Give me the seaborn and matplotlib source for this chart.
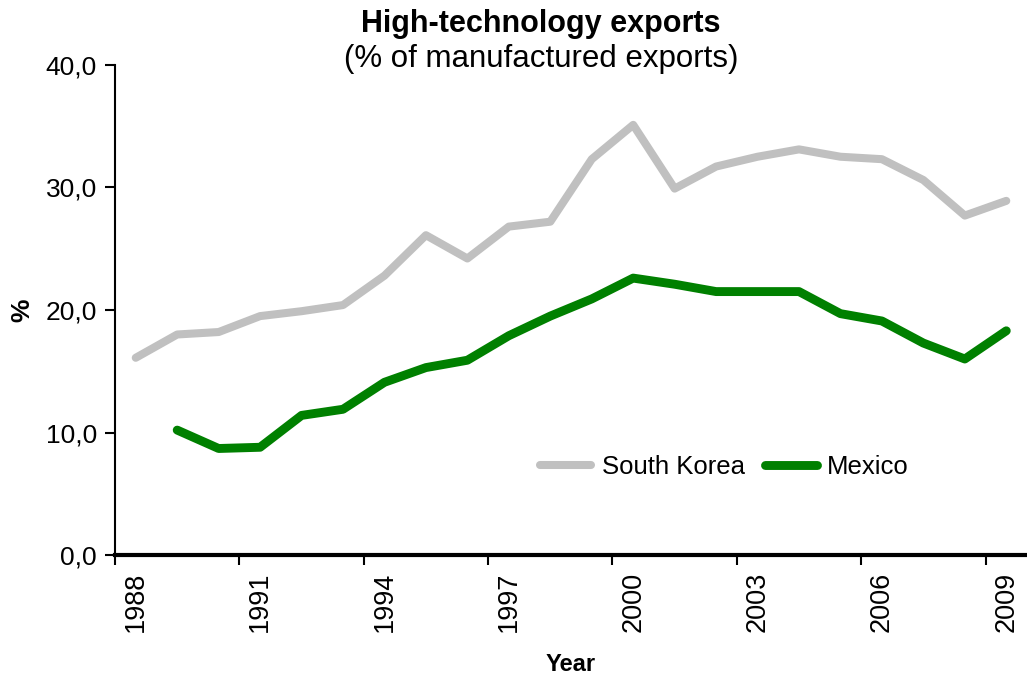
import matplotlib.pyplot as plt
import seaborn as sns
import numpy as np
import pandas as pd

years = list(range(1988, 2010))
south_korea = [16.1, 18.0, 18.2, 19.5, 19.9, 20.4, 22.8, 26.1, 24.2, 26.8, 27.2,
               32.3, 35.1, 29.9, 31.7, 32.5, 33.1, 32.5, 32.3, 30.6, 27.7, 28.9]
mexico = [np.nan, 10.2, 8.7, 8.8, 11.4, 11.9, 14.1, 15.3, 15.9, 17.9, 19.5,
          20.9, 22.6, 22.1, 21.5, 21.5, 21.5, 19.7, 19.1, 17.3, 16.0, 18.3]
year_labels = [str(y) for y in range(1988, 2010, 3)]
y_ticks = [0, 10, 20, 30, 40]

df = pd.DataFrame({'Year': years, 'South Korea': south_korea, 'Mexico': mexico})

sns.set_theme(style="white", rc={"text.color": "black", "axes.labelcolor": "black",
                                 "xtick.color": "black", "ytick.color": "black"})
plt.rcParams['font.family'] = ['Liberation Sans', 'DejaVu Sans']

fig = plt.figure(figsize=(10.27, 6.82), dpi=100)
ax = fig.add_axes([0.112, 0.186, 0.888, 0.719])

sns.lineplot(data=df, x='Year', y='South Korea', ax=ax, color='#C0C0C0',
             linewidth=5.8, label='South Korea', solid_capstyle='round')
sns.lineplot(data=df, x='Year', y='Mexico', ax=ax, color='#008000',
             linewidth=6.4, label='Mexico', solid_capstyle='round')

ax.set_xlim(1987.5, 2009.5)
ax.set_ylim(0, 40)
ax.set_yticks(y_ticks)
ax.set_yticklabels([f"{v:.1f}".replace('.', ',') for v in y_ticks], fontsize=19)
ax.set_xticks(range(1988, 2010, 3))
ax.set_xticklabels(year_labels, rotation=90, fontsize=19.5)
ax.set_xticks(np.arange(1987.5, 2009.6, 3), minor=True)
ax.tick_params(axis='x', which='major', length=0, pad=12)
ax.tick_params(axis='x', which='minor', length=7, width=1.5, direction='out',
               bottom=True, color='black')
ax.tick_params(axis='y', length=7, width=1.5, direction='out', left=True, pad=6)

for s in ['top', 'right']:
    ax.spines[s].set_visible(False)
ax.spines['left'].set_linewidth(1.5)
ax.spines['left'].set_color('black')
ax.spines['bottom'].set_linewidth(3)
ax.spines['bottom'].set_color('black')

ax.set_xlabel('Year', fontsize=17, fontweight='bold', labelpad=15)
ax.set_ylabel('%', fontsize=19, fontweight='bold', labelpad=8)

ax.legend(loc='center', bbox_to_anchor=(0.668, 0.18), ncol=2, frameon=False,
          fontsize=18.5, handlelength=2.0, columnspacing=0.8, handletextpad=0.4)

fig.text(0.527, 0.965, 'High-technology exports', ha='center', va='center',
         fontsize=22, fontweight='bold')
fig.text(0.527, 0.913, '(% of manufactured exports)', ha='center', va='center',
         fontsize=22.5)

fig.savefig('out.png', dpi=100)
